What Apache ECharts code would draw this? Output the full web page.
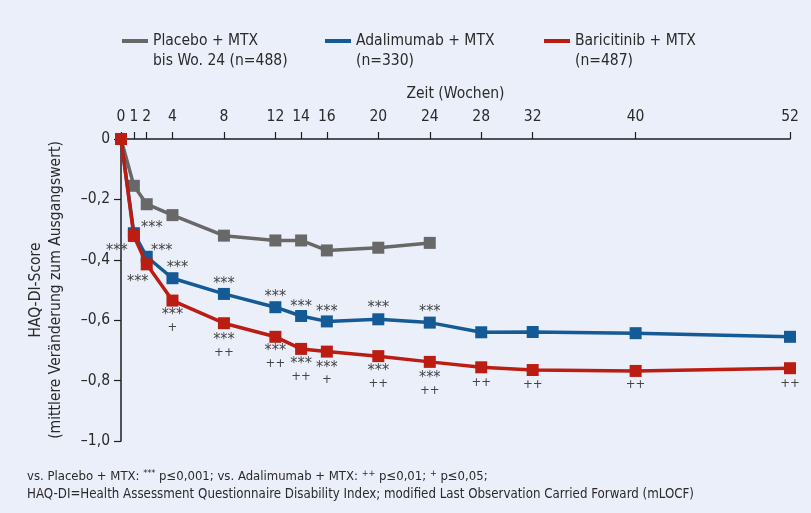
<!DOCTYPE html>
<html><head><meta charset="utf-8">
<script src="https://cdn.jsdelivr.net/npm/echarts@6/dist/echarts.min.js"></script>
<style>html,body{margin:0;padding:0;background:#ebeffa}#c{width:811px;height:513px}</style>
</head><body><div id="c"></div>
<script>
// ---- data ----
const weeks = [0, 1, 2, 4, 8, 12, 14, 16, 20, 24, 28, 32, 40, 52];
const placebo = [0, -0.155, -0.216, -0.252, -0.320, -0.336, -0.336, -0.369, -0.360, -0.344];
const adalimumab = [0, -0.312, -0.390, -0.461, -0.513, -0.557, -0.586, -0.604, -0.597, -0.608, -0.640, -0.639, -0.643, -0.655];
const baricitinib = [0, -0.321, -0.415, -0.535, -0.610, -0.655, -0.695, -0.704, -0.719, -0.738, -0.756, -0.765, -0.768, -0.759];
const adaSig = ['', '***', '***', '***', '***', '***', '***', '***', '***', '***', '', '', '', ''];
const bariSig = ['', '***', '***', '***\n+', '***\n++', '***\n++', '***\n++', '***\n+', '***\n++', '***\n++', '++', '++', '++', '++'];
const yTicks = [0, -0.2, -0.4, -0.6, -0.8, -1.0];
const seriesNames = ['Placebo + MTX\nbis Wo. 24 (n=488)', 'Adalimumab + MTX\n(n=330)', 'Baricitinib + MTX\n(n=487)'];

// ---- layout (label offsets, px) ----
const adaOffsets = [null, [18, -5], [15, -6], [5, -10], [0, -10], [0, -10], [0, -9], [0, -10], [0, -11], [0, -11]];
const bariOffsets = [null, [-17, 15], [-9, 18], [0, 21], [0, 23], [0, 20.5], [0, 21.5], [0, 22.5], [0, 21.5], [0, 22.5], [0, 15], [0, 15], [0, 14], [0, 15]];

const FONT = "'Liberation Sans Narrow','DejaVu Sans Condensed',sans-serif";
const TXT = '#2a2a2a';
const COLORS = ['#686868', '#135a97', '#bb1d13'];

function sigText(s) {
  return s.split('\n').map(p => (p.indexOf('*') >= 0 ? '{a|' + p + '}' : '{b|' + p + '}')).join('\n');
}

function buildData(vals, sig, offs) {
  return vals.map((v, i) => {
    const item = { value: [weeks[i], v] };
    if (sig && sig[i]) {
      item.label = {
        show: true, formatter: sigText(sig[i]), position: 'inside', offset: offs[i],
        align: 'center', verticalAlign: 'middle',
        rich: {
          a: { fontFamily: FONT, fontSize: 16, lineHeight: 12, color: '#444' },
          b: { fontFamily: FONT, fontSize: 13, lineHeight: 13, color: '#444' }
        }
      };
    }
    return item;
  });
}

const legendIcon = 'path://M0,0L26,0L26,4L0,4Z M0,23.95L0.02,23.95L0.02,24L0,24Z';
const legendLefts = [122, 325, 544];

const chart = echarts.init(document.getElementById('c'), null, { renderer: 'canvas' });
chart.setOption({
  backgroundColor: '#ebeffa',
  animation: false,
  textStyle: { fontFamily: FONT },
  grid: { left: 121, top: 139, right: 21, bottom: 72, containLabel: false },
  legend: seriesNames.map((n, i) => ({
    data: [n], left: legendLefts[i], top: 31, icon: legendIcon,
    itemWidth: 26, itemHeight: 24, padding: 0,
    textStyle: { fontFamily: FONT, fontSize: 15.5, lineHeight: 20, color: TXT }
  })),
  xAxis: {
    type: 'value', position: 'top', min: 0, max: 52,
    name: 'Zeit (Wochen)', nameLocation: 'middle', nameGap: 37,
    nameTextStyle: { fontFamily: FONT, fontSize: 15.5, color: TXT },
    axisLine: { onZero: false, lineStyle: { color: '#1e1e1e', width: 1.5 } },
    axisTick: { show: true, length: 7, customValues: weeks, lineStyle: { color: '#1e1e1e', width: 1.2 } },
    axisLabel: { customValues: weeks, margin: 14, fontFamily: FONT, fontSize: 15.5, color: TXT },
    splitLine: { show: false }
  },
  yAxis: {
    type: 'value', min: -1, max: 0, interval: 0.2,
    name: 'HAQ-DI-Score\n(mittlere Veränderung zum Ausgangswert)',
    nameLocation: 'middle', nameRotate: 90, nameGap: 55,
    nameTextStyle: { fontFamily: FONT, fontSize: 15.5, lineHeight: 20, color: TXT, align: 'center' },
    axisLine: { lineStyle: { color: '#1e1e1e', width: 1.5 } },
    axisTick: { show: true, length: 7, customValues: yTicks, lineStyle: { color: '#1e1e1e', width: 1.2 } },
    axisLabel: {
      margin: 11, fontFamily: FONT, fontSize: 15.5, color: TXT,
      formatter: v => (Math.abs(v) < 1e-9 ? '0' : '\u2013' + Math.abs(v).toFixed(1).replace('.', ','))
    },
    splitLine: { show: false }
  },
  series: [
    { name: seriesNames[0], type: 'line', data: buildData(placebo), color: COLORS[0],
      symbol: 'rect', symbolSize: 12, lineStyle: { width: 3.5, color: COLORS[0] }, itemStyle: { color: COLORS[0] }, z: 2 },
    { name: seriesNames[1], type: 'line', data: buildData(adalimumab, adaSig, adaOffsets), color: COLORS[1],
      symbol: 'rect', symbolSize: 12, lineStyle: { width: 3.5, color: COLORS[1] }, itemStyle: { color: COLORS[1] }, z: 3 },
    { name: seriesNames[2], type: 'line', data: buildData(baricitinib, bariSig, bariOffsets), color: COLORS[2],
      symbol: 'rect', symbolSize: 12, lineStyle: { width: 3.5, color: COLORS[2] }, itemStyle: { color: COLORS[2] }, z: 4 }
  ],
  graphic: [
    { type: 'text', left: 27, top: 468, style: {
      text: 'vs. Placebo + MTX: {s|***} p≤0,001; vs. Adalimumab + MTX: {s|++} p≤0,01; {s|+} p≤0,05;',
      fontFamily: FONT, fontSize: 13, fill: TXT, lineHeight: 17,
      rich: { s: { fontSize: 9, fontFamily: FONT, fill: TXT, padding: [0, 0, 6, 0] } }
    } },
    { type: 'text', left: 27, top: 486, style: {
      text: 'HAQ-DI=Health Assessment Questionnaire Disability Index; modified Last Observation Carried Forward (mLOCF)',
      fontFamily: FONT, fontSize: 13.2, fill: TXT, lineHeight: 17
    } }
  ]
});
</script></body></html>
